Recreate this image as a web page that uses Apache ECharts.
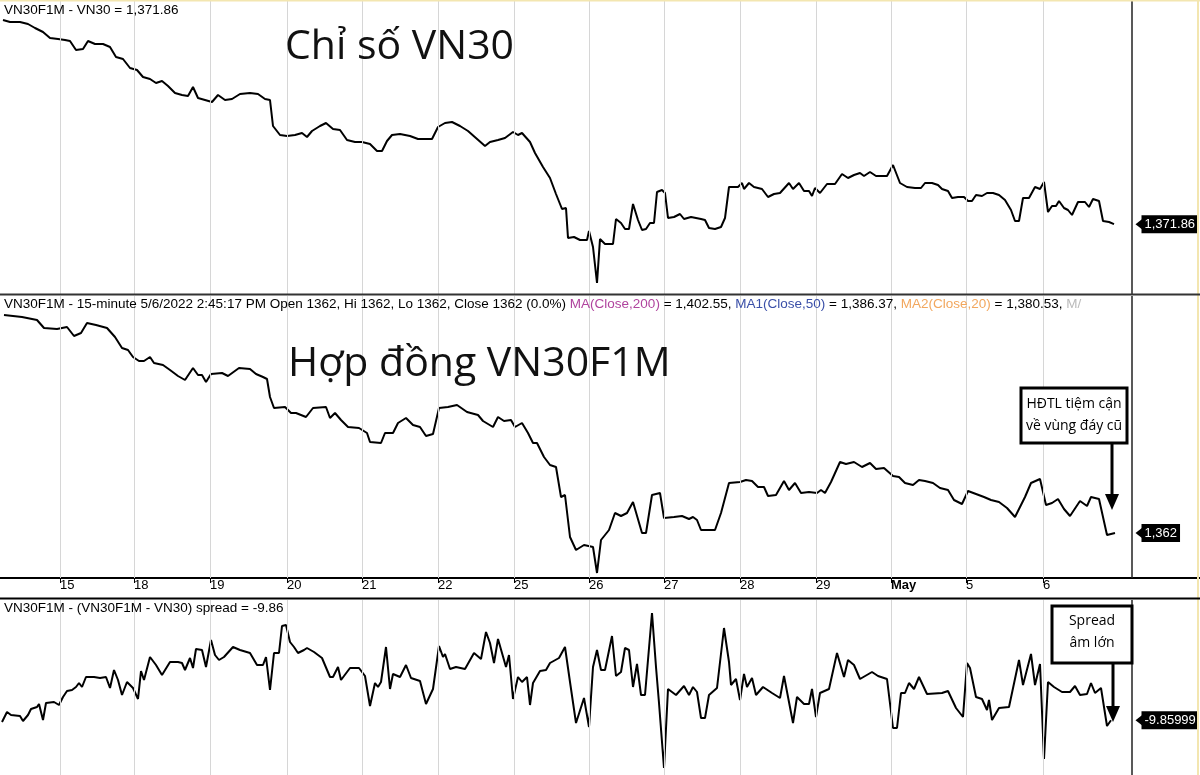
<!DOCTYPE html>
<html><head><meta charset="utf-8">
<script src="https://cdn.jsdelivr.net/npm/echarts@6/dist/echarts.min.js"></script>
<style>html,body{margin:0;padding:0;background:#fff}#c{width:1200px;height:775px}</style>
</head><body><div id="c"></div>
<script>
// x in chart time units (one trading day ≈ 75.6 units)
const dayStarts = [60,134,210,287,362,438,514,589,664,740,816,891,966,1043];
const dayNames = ['15','18','19','20','21','22','25','26','27','28','29','May','5','6'];
const vn30 = [[3,1576],[10,1574],[20,1574],[28,1572],[35,1568],[43,1564],[50,1558],[58,1557],[65,1556],[70,1555],[76,1546],[83,1547],[88,1555],[95,1552],[103,1552],[110,1549],[116,1539],[123,1537],[130,1528],[137,1526],[143,1519],[150,1517],[156,1513],[162,1515],[168,1510],[175,1503],[182,1501],[188,1500],[193,1509],[198,1498],[205,1496],[212,1494],[218,1501],[225,1496],[232,1497],[240,1502],[250,1503],[258,1502],[265,1497],[270,1496],[273,1470],[280,1461],[287,1460],[295,1461],[302,1463],[307,1459],[312,1465],[320,1470],[326,1473],[333,1467],[340,1466],[347,1456],[355,1454],[362,1454],[370,1452],[377,1445],[382,1445],[387,1455],[392,1461],[400,1462],[410,1460],[418,1457],[432,1457],[438,1469],[445,1473],[452,1474],[460,1470],[468,1465],[485,1450],[490,1454],[498,1456],[505,1458],[513,1464],[518,1461],[522,1463],[530,1454],[535,1443],[543,1429],[550,1418],[556,1402],[562,1387],[566,1388],[568,1358],[574,1359],[580,1356],[587,1356],[589,1365],[593,1349],[597,1313],[600,1357],[605,1352],[613,1352],[616,1377],[621,1373],[625,1367],[629,1367],[633,1392],[638,1376],[642,1366],[646,1367],[650,1373],[654,1373],[657,1404],[662,1406],[665,1403],[668,1378],[674,1379],[680,1382],[684,1377],[691,1379],[701,1377],[705,1376],[709,1368],[715,1367],[721,1369],[725,1378],[729,1409],[738,1409],[742,1413],[744,1407],[749,1413],[754,1409],[762,1407],[768,1399],[774,1402],[780,1403],[789,1413],[793,1407],[799,1413],[804,1405],[809,1405],[812,1400],[815,1408],[820,1403],[827,1412],[835,1412],[842,1422],[848,1418],[854,1421],[860,1423],[864,1420],[870,1424],[876,1420],[887,1420],[893,1431],[895,1430],[900,1413],[907,1409],[915,1408],[921,1408],[925,1413],[932,1413],[938,1411],[942,1407],[948,1405],[952,1398],[958,1399],[964,1399],[968,1395],[972,1395],[976,1401],[982,1400],[987,1403],[993,1403],[999,1401],[1005,1396],[1011,1386],[1015,1375],[1019,1375],[1023,1398],[1029,1398],[1035,1409],[1040,1407],[1044,1414],[1048,1384],[1052,1390],[1056,1390],[1059,1395],[1064,1388],[1068,1386],[1072,1381],[1078,1394],[1085,1394],[1089,1389],[1093,1397],[1099,1395],[1103,1375],[1109,1374],[1114,1371.86]];
const vn30f1m = [[4,1580],[22,1578],[37,1575],[44,1567],[57,1566],[67,1568],[74,1559],[81,1562],[87,1572],[96,1570],[107,1567],[115,1558],[122,1547],[128,1545],[133,1538],[139,1534],[144,1534],[150,1538],[154,1532],[163,1530],[170,1525],[178,1519],[185,1515],[193,1527],[198,1520],[202,1520],[206,1513],[211,1521],[222,1522],[228,1519],[239,1527],[250,1526],[256,1521],[263,1518],[267,1516],[270,1498],[274,1487],[285,1488],[291,1482],[296,1482],[306,1478],[313,1487],[326,1488],[330,1477],[335,1482],[341,1475],[348,1468],[359,1467],[367,1462],[370,1453],[381,1452],[385,1462],[393,1462],[398,1472],[406,1477],[413,1470],[420,1468],[426,1459],[433,1461],[439,1487],[448,1488],[457,1490],[467,1483],[478,1480],[483,1474],[493,1468],[498,1478],[504,1474],[511,1475],[515,1468],[522,1472],[528,1462],[533,1452],[537,1452],[544,1438],[550,1430],[556,1428],[561,1398],[565,1400],[570,1358],[576,1345],[584,1350],[593,1348],[597,1322],[601,1355],[609,1365],[615,1382],[621,1379],[627,1382],[633,1393],[642,1362],[646,1362],[652,1400],[660,1402],[664,1377],[674,1378],[682,1379],[689,1376],[693,1378],[697,1375],[701,1365],[715,1365],[721,1382],[729,1412],[740,1413],[746,1415],[752,1414],[758,1408],[764,1408],[768,1399],[776,1400],[784,1414],[789,1405],[795,1412],[801,1402],[809,1403],[817,1402],[821,1405],[825,1402],[831,1413],[840,1433],[846,1431],[854,1433],[862,1428],[870,1432],[876,1426],[884,1427],[893,1419],[899,1418],[905,1412],[913,1410],[919,1415],[925,1414],[933,1412],[940,1407],[948,1405],[954,1395],[962,1391],[968,1404],[976,1401],[984,1398],[991,1395],[999,1393],[1007,1387],[1015,1378],[1025,1398],[1031,1412],[1040,1416],[1046,1390],[1052,1392],[1058,1396],[1064,1386],[1070,1379],[1080,1394],[1087,1389],[1091,1398],[1099,1396],[1103,1378],[1107,1360],[1115,1362]];
const spread = [[2,-10.2],[7,-8.2],[11,-8.8],[20,-9],[23,-10],[28,-8.8],[31,-7.6],[37,-7.2],[39,-6.6],[43,-9.8],[46,-6.4],[54,-6.2],[59,-6.8],[63,-5.2],[67,-4],[72,-3.8],[76,-3.2],[79,-2.4],[82,-3.2],[86,-1.2],[94,-1.2],[100,-1.4],[106,-1.2],[110,-3.4],[114,0.2],[118,-1.8],[122,-4.8],[127,-2.2],[133,-3.4],[138,-5.6],[141,0],[144,-1.8],[150,2.8],[156,1.2],[162,-0.8],[170,1.8],[178,1.8],[182,1.6],[185,0.2],[190,2.6],[193,0.6],[196,4.4],[202,4.2],[206,0.8],[211,6.2],[215,3.2],[219,2.2],[224,2.8],[233,4.8],[240,4.2],[250,3.6],[257,1.2],[263,1.2],[266,2.8],[270,-3.8],[274,3.6],[279,3.6],[282,9],[286,9.2],[290,5.8],[294,4.8],[298,3.6],[304,4.2],[307,4.6],[314,3.8],[322,2.6],[330,-1.2],[333,-1.2],[338,0.8],[341,-1.8],[350,0.6],[359,0.6],[365,-1],[370,-7],[375,-2.4],[378,-3.2],[381,-2.2],[386,4.8],[390,-3.6],[393,-0.6],[400,-1.2],[406,1.2],[411,-1.4],[420,-2],[426,-6.6],[433,-3.6],[439,5],[443,2.8],[445,3.4],[450,0.4],[456,0.8],[465,0.4],[474,3.6],[481,2.4],[486,7.8],[490,5.6],[494,1.6],[498,6.4],[506,0.8],[509,3.2],[513,-5.6],[518,-1.2],[522,-2.2],[527,-1.2],[530,-6.8],[533,-2.4],[540,0],[546,0.2],[550,1.6],[559,2.6],[565,4.8],[570,-2.2],[576,-10.4],[584,-5.4],[589,-11.2],[593,0.8],[597,4.2],[601,0.2],[605,0.2],[612,7],[616,-1],[621,-0.2],[625,4.6],[629,4.2],[633,-3.2],[637,1.4],[641,-4.8],[645,-4.8],[652,11.6],[656,0.8],[659,-6.4],[664,-19.4],[668,-3.6],[676,-4.8],[684,-3],[689,-4.8],[693,-3.2],[697,-4.2],[701,-9.4],[705,-9.4],[709,-4.8],[717,-3.4],[724,8.6],[729,1.8],[731,-2.8],[736,-1.6],[740,-5.8],[744,-0.6],[747,-3.2],[752,-1.4],[756,-4.8],[763,-3.2],[772,-4.4],[780,-5.4],[784,-1],[793,-10.4],[797,-5.2],[804,-6.6],[809,-6.6],[812,-3.6],[816,-9.2],[820,-4.4],[829,-3.6],[837,3.6],[844,-1.2],[848,2.2],[854,1.2],[860,-1.6],[872,-0.2],[878,-1],[887,-1.6],[893,-11.4],[897,-11.4],[901,-4.4],[905,-4.4],[909,-2.4],[914,-3.6],[919,-1.2],[927,-4.6],[942,-4.4],[948,-4],[956,-7.4],[963,-9.2],[967,1.6],[970,0.6],[976,-5.2],[982,-5.6],[987,-7.8],[989,-5.8],[992,-9.8],[999,-7.4],[1009,-7.2],[1019,2.2],[1023,-2.8],[1031,3.4],[1035,-2.8],[1040,1.4],[1044,-17.6],[1048,-2.2],[1054,-3.2],[1062,-4.2],[1070,-4.2],[1075,-3],[1080,-4.8],[1087,-4.6],[1091,-2.4],[1095,-4.4],[1101,-3.4],[1107,-11],[1111,-9.86]];
const lastLabels = ['1,371.86','1,362','-9.85999'];

const chart = echarts.init(document.getElementById('c'));
const font = "'Liberation Sans Narrow','Liberation Sans',Arial,sans-serif";
const gridLines = {silent:true,symbol:'none',label:{show:false},lineStyle:{color:'#d6d6d6',type:'solid',width:1},
  data: dayStarts.map(x=>({xAxis:x})).concat([{xAxis:1132,lineStyle:{color:'#222',width:1.5}}])};
function tag(series, idx){
  const p = series[series.length-1];
  return {silent:true,data:[{coord:[1140,p[1]],symbol:'triangle',symbolRotate:90,symbolSize:[14,9],itemStyle:{color:'#000'},
    label:{show:true,position:'right',distance:-3,formatter:lastLabels[idx],color:'#fff',backgroundColor:'#000',padding:[3,3,2,3],fontFamily:font,fontSize:13}}]};
}
function xa(gi, show){
  return {type:'value',gridIndex:gi,min:0,max:1200,splitLine:{show:false},
    axisLine:{show:show,onZero:false,lineStyle:{color:'#000',width:2}},
    axisTick:{show:show,customValues:dayStarts,length:5,inside:false,lineStyle:{color:'#000'}},
    axisLabel:{show:show,customValues:dayStarts,color:'#000',fontFamily:font,fontSize:13,align:'left',margin:1,
      formatter:v=>{const i=dayStarts.indexOf(v);return i<0?'':(dayNames[i]==='May'?'{b|May}':dayNames[i]);},
      rich:{b:{fontWeight:'bold',fontFamily:font,fontSize:13,color:'#000'}}}};
}
function ya(gi,min,max){return {type:'value',gridIndex:gi,min:min,max:max,show:false,splitLine:{show:false}};}
const ls = {color:'#000',width:2};
const hf = '13.5px '+font;
chart.setOption({
  animation:false,
  grid:[{left:0,right:0,top:0,height:294},{left:0,right:0,top:296,height:282},{left:0,right:0,top:600,height:175}],
  xAxis:[xa(0,false),xa(1,true),xa(2,false)],
  yAxis:[ya(0,1302,1596),ya(1,1317,1599),ya(2,-20.8,14.2)],
  series:[
    {type:'line',xAxisIndex:0,yAxisIndex:0,data:vn30,symbol:'none',lineStyle:ls,markLine:gridLines,markPoint:tag(vn30,0)},
    {type:'line',xAxisIndex:1,yAxisIndex:1,data:vn30f1m,symbol:'none',lineStyle:ls,markLine:gridLines,markPoint:tag(vn30f1m,1)},
    {type:'line',xAxisIndex:2,yAxisIndex:2,data:spread,symbol:'none',lineStyle:ls,markLine:gridLines,markPoint:tag(spread,2)}
  ],
  graphic:{elements:[
    {type:'line',z:100,shape:{x1:0,y1:0.5,x2:1200,y2:0.5},style:{stroke:'#f3e6b0',lineWidth:2}},
    {type:'line',z:100,shape:{x1:1198,y1:0,x2:1198,y2:775},style:{stroke:'#f3e6b0',lineWidth:2}},
    {type:'line',z:100,shape:{x1:0,y1:294.5,x2:1200,y2:294.5},style:{stroke:'#333',lineWidth:2}},
    {type:'line',z:100,shape:{x1:0,y1:598.5,x2:1200,y2:598.5},style:{stroke:'#000',lineWidth:2}},
    {type:'text',z:100,x:4,y:3,style:{text:'VN30F1M - VN30 = 1,371.86',font:hf,fill:'#000'}},
    {type:'text',z:100,x:4,y:297,style:{text:'VN30F1M - 15-minute 5/6/2022 2:45:17 PM Open 1362, Hi 1362, Lo 1362, Close 1362 (0.0%) {m|MA(Close,200)} = 1,402.55, {b|MA1(Close,50)} = 1,386.37, {o|MA2(Close,20)} = 1,380.53, {g|M/}',
      font:hf,fill:'#000',rich:{m:{fill:'#b0449e',font:hf},b:{fill:'#3a4fa8',font:hf},o:{fill:'#f2a75e',font:hf},g:{fill:'#bbb',font:hf}}}},
    {type:'text',z:100,x:4,y:601,style:{text:'VN30F1M - (VN30F1M - VN30) spread = -9.86',font:hf,fill:'#000'}},
    {type:'text',z:100,x:285,y:27,style:{text:'Chỉ số VN30',font:'41px "Open Sans",sans-serif',fill:'#111'}},
    {type:'text',z:100,x:288,y:344,style:{text:'Hợp đồng VN30F1M',font:'41px "Open Sans",sans-serif',fill:'#111'}},
    {type:'rect',z:100,shape:{x:1021,y:388,width:106,height:55},style:{fill:'#fff',stroke:'#000',lineWidth:3}},
    {type:'text',z:101,x:1074,y:393,style:{text:'HĐTL tiệm cận\nvề vùng đáy cũ',font:'14px "Open Sans",sans-serif',fill:'#000',align:'center',lineHeight:22}},
    {type:'line',z:100,shape:{x1:1112,y1:443,x2:1112,y2:497},style:{stroke:'#000',lineWidth:3}},
    {type:'polygon',z:100,shape:{points:[[1105,494],[1119,494],[1112,510]]},style:{fill:'#000'}},
    {type:'rect',z:100,shape:{x:1052,y:606,width:80,height:57},style:{fill:'#fff',stroke:'#000',lineWidth:3}},
    {type:'text',z:101,x:1092,y:610,style:{text:'Spread\nâm lớn',font:'14px "Open Sans",sans-serif',fill:'#000',align:'center',lineHeight:22}},
    {type:'line',z:100,shape:{x1:1113,y1:663,x2:1113,y2:710},style:{stroke:'#000',lineWidth:3}},
    {type:'polygon',z:100,shape:{points:[[1106,706],[1120,706],[1113,722]]},style:{fill:'#000'}}
  ]}
});
</script></body></html>
